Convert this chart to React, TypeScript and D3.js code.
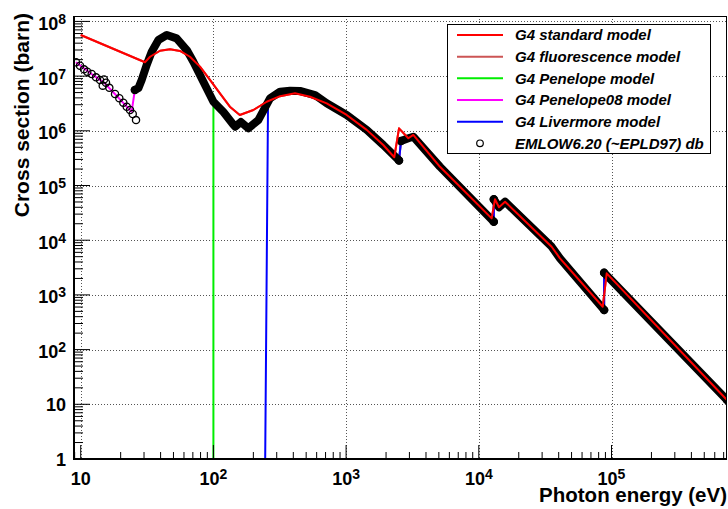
import React from 'react';
import * as d3 from 'd3';

// ---- data ----
const stdE = [10, 30.5, 33.3, 39.6, 47.1, 56.0, 66.6, 79.2, 94.2, 112, 133, 158, 200, 252, 318, 412, 535, 714, 1010, 1430, 1906, 2307, 2504, 2944, 3208, 5100, 12500, 13240, 14190, 15770, 35400, 40900, 85900, 92000, 742000];
const stdSigma = [5.64e7, 1.79e7, 2.26e7, 2.91e7, 3.09e7, 2.88e7, 2.26e7, 1.49e7, 8.5e6, 4.85e6, 2.76e6, 1.95e6, 2.4e6, 3.4e6, 4.3e6, 4.85e6, 4.2e6, 3.18e6, 1.95e6, 1.04e6, 5.5e5, 3.28e5, 1.11e6, 7.3e5, 8.4e5, 2.2e5, 2.51e4, 5.6e4, 4.0e4, 5.06e4, 7600, 4670, 608, 2480, 12];

const epdlLowE = [9.22, 9.88, 10.59, 11.21, 12.1, 13.04, 13.98, 14.98, 15.51, 14.65, 16.43, 18.14, 19.54, 20.94, 22.22, 23.53, 24.66, 26.11];
const epdlLowSigma = [1.79e7, 1.55e7, 1.33e7, 1.2e7, 1.09e7, 9.5e6, 8.5e6, 8.7e6, 7.6e6, 6.7e6, 6.1e6, 4.7e6, 3.93e6, 3.27e6, 2.76e6, 2.4e6, 2.03e6, 1.57e6];

const epdlE = [25.6, 27.2, 28.8, 31.4, 34.3, 38.5, 44.5, 52.8, 63, 70.6, 84, 100, 119, 141, 146, 161, 183, 218, 267, 318, 378, 449, 583, 714, 1010, 1430, 1906, 2504, 2593, 2944, 3208, 5100, 12970, 12970, 14190, 15770, 35400, 40900, 88000, 88000, 742000];
const epdlSigma = [5.6e6, 6.0e6, 8.5e6, 1.6e7, 2.8e7, 4.57e7, 5.64e7, 4.9e7, 3.0e7, 1.83e7, 7.9e6, 3.4e6, 2.2e6, 1.3e6, 1.19e6, 1.45e6, 1.11e6, 1.57e6, 3.93e6, 5.2e6, 5.4e6, 5.35e6, 4.5e6, 3.18e6, 1.95e6, 1.04e6, 5.5e5, 2.87e5, 6.5e5, 7.3e5, 7.8e5, 2.2e5, 2.18e4, 5.6e4, 4.0e4, 5.06e4, 7600, 4670, 530, 2550, 12];

const pen08LowE = [9.2, 12.1, 15.0, 18.1, 21.0, 24.2, 25.6];
const pen08LowSigma = [1.79e7, 1.09e7, 7.6e6, 4.7e6, 3.2e6, 2.24e6, 5.6e6];

const penelopeStartE = [100, 100];
const penelopeStartSigma = [0.5, 3.4e6];
const livermoreStartE = [245, 258];
const livermoreStartSigma = [0.5, 3.2e6];

const xTickVals = [10, 1e2, 1e3, 1e4, 1e5];
const xTickExp = ['', '2', '3', '4', '5'];
const yTickVals = [1, 10, 1e2, 1e3, 1e4, 1e5, 1e6, 1e7, 1e8];
const yTickBase = ['1', '10', '10', '10', '10', '10', '10', '10', '10'];
const yTickExp = ['', '', '2', '3', '4', '5', '6', '7', '8'];

const legendLabels = ['G4 standard model', 'G4 fluorescence model', 'G4 Penelope model', 'G4 Penelope08 model', 'G4 Livermore model', 'EMLOW6.20 (~EPLD97) db'];
const legendColors = ['#ff0000', '#cc5555', '#00ee00', '#ff00ff', '#0000ff', '#000000'];

// ---- layout ----
const W = 728, H = 509;
const L = 74, R = 727, T = 16, B = 459;
const FONT = "'Liberation Sans', Arial, Helvetica, sans-serif";

const x = d3.scaleLog().domain([8.9, 7.42e5]).range([L, R]);
const y = d3.scaleLog().domain([1, 1.256e8]).range([B, T]);

type P = [number, number];
const zip = (a: number[], b: number[]): P[] => a.map((v, i) => [v, b[i]]);
const line = d3.line<P>().x(d => x(d[0])).y(d => y(d[1]));

function splitAtEdges(pts: P[]): P[][] {
  const segs: P[][] = [];
  let cur: P[] = [];
  pts.forEach((p, i) => {
    if (i > 0) {
      const q = pts[i - 1];
      if (p[0] <= q[0] * 1.05 && p[1] > q[1] * 1.5) {
        segs.push(cur);
        cur = [];
      }
    }
    cur.push(p);
  });
  segs.push(cur);
  return segs;
}

export default function App() {
  const stdPts = zip(stdE, stdSigma);
  const epdlPts = zip(epdlE, epdlSigma);
  const lowPts = zip(epdlLowE, epdlLowSigma);
  const pen08Pts = [...zip(pen08LowE, pen08LowSigma), ...epdlPts.filter(p => p[0] > 25.6)];
  const penPts = [...zip(penelopeStartE, penelopeStartSigma), ...epdlPts.filter(p => p[0] > 100)];
  const livPts = [...zip(livermoreStartE, livermoreStartSigma), ...epdlPts.filter(p => p[0] > 258)];
  const bandSegs = splitAtEdges(epdlPts);
  const segEnds: P[] = [];
  bandSegs.forEach(s => { segEnds.push(s[0]); segEnds.push(s[s.length - 1]); });

  const xMinor: number[] = [];
  d3.range(0, 7).forEach(d => { for (let k = 2; k <= 9; k++) { const v = k * Math.pow(10, d); if (v >= 8.9 && v <= 7.42e5) xMinor.push(v); } });
  const yMinor: number[] = [];
  d3.range(0, 9).forEach(d => { for (let k = 2; k <= 9; k++) { const v = k * Math.pow(10, d); if (v <= 1.256e8) yMinor.push(v); } });

  const legendRowY = [35, 56.7, 78.3, 100, 121.7, 143.3];

  return (
    <svg width={W} height={H} style={{ position: 'absolute', left: 0, top: 0, display: 'block', background: '#fff' }} fontFamily={FONT}>
      <defs>
        <clipPath id="plot"><rect x={L} y={T} width={R - L} height={B - T} /></clipPath>
      </defs>
      <rect x={0} y={0} width={W} height={H} fill="#fff" />
      {/* grid */}
      <g stroke="#555" strokeWidth={1} strokeDasharray="1 2">
        {xTickVals.map((v, i) => <line key={'gx' + i} x1={Math.round(x(v)) + 0.5} x2={Math.round(x(v)) + 0.5} y1={T} y2={B} />)}
        {yTickVals.slice(1).map((v, i) => <line key={'gy' + i} x1={L} x2={R} y1={Math.round(y(v)) + 0.5} y2={Math.round(y(v)) + 0.5} />)}
      </g>
      {/* curves */}
      <g clipPath="url(#plot)" fill="none" strokeLinejoin="round">
        <path d={line(stdPts) || ''} stroke="#cc5555" strokeWidth={2} />
        <path d={line(penPts) || ''} stroke="#00ee00" strokeWidth={2} />
        <path d={line(pen08Pts) || ''} stroke="#ff00ff" strokeWidth={2} />
        <path d={line(livPts) || ''} stroke="#0000ff" strokeWidth={2} />
        {bandSegs.map((s, i) => <path key={'b' + i} d={line(s) || ''} stroke="#000" strokeWidth={8} strokeLinecap="round" />)}
        {[...lowPts, ...segEnds].map((p, i) => (
          <circle key={'c' + i} cx={x(p[0])} cy={y(p[1])} r={3.6} fill="none" stroke="#000" strokeWidth={1.3} />
        ))}
        <path d={line(stdPts) || ''} stroke="#ff0000" strokeWidth={2} />
      </g>
      {/* frame */}
      <line x1={L} x2={R} y1={T + 0.5} y2={T + 0.5} stroke="#000" strokeWidth={1} />
      <line x1={R - 0.5} x2={R - 0.5} y1={T} y2={B} stroke="#000" strokeWidth={1} />
      <line x1={L} x2={L} y1={T} y2={B + 1} stroke="#000" strokeWidth={2} />
      <line x1={L - 1} x2={R} y1={B} y2={B} stroke="#000" strokeWidth={2} />
      {/* ticks */}
      <g stroke="#000" strokeWidth={1}>
        {xTickVals.map((v, i) => <line key={'tx' + i} x1={x(v)} x2={x(v)} y1={B} y2={B - 14} />)}
        {xMinor.map((v, i) => <line key={'mx' + i} x1={x(v)} x2={x(v)} y1={B} y2={B - 7} />)}
        {yTickVals.slice(1).map((v, i) => <line key={'ty' + i} x1={L} x2={L + 16} y1={y(v)} y2={y(v)} />)}
        {yMinor.map((v, i) => <line key={'my' + i} x1={L} x2={L + 9} y1={y(v)} y2={y(v)} />)}
      </g>
      {/* tick labels */}
      <g fontWeight="bold" fontSize={18} fill="#000">
        {xTickVals.map((v, i) => (
          <text key={'lx' + i} x={x(v)} y={485} textAnchor="middle">
            <tspan>10</tspan>
            {xTickExp[i] ? <tspan fontSize={14} dy={-6}>{xTickExp[i]}</tspan> : null}
          </text>
        ))}
        {yTickVals.map((v, i) => (
          <text key={'ly' + i} x={66} y={y(v) + (yTickExp[i] ? 8.5 : 6.5)} textAnchor="end">
            <tspan>{yTickBase[i]}</tspan>
            {yTickExp[i] ? <tspan fontSize={14} dy={-6}>{yTickExp[i]}</tspan> : null}
          </text>
        ))}
      </g>
      {/* axis titles */}
      <text x={727} y={502} textAnchor="end" fontWeight="bold" fontSize={20.5}>Photon energy (eV)</text>
      <text transform="translate(29,13) rotate(-90)" textAnchor="end" fontWeight="bold" fontSize={21}>Cross section (barn)</text>
      {/* legend */}
      <rect x={447.5} y={24.5} width={263} height={129} fill="#fff" stroke="#000" strokeWidth={1} />
      {legendLabels.map((lab, i) => (
        <g key={'lg' + i}>
          {i < 5 ? (
            <line x1={457} x2={503} y1={legendRowY[i]} y2={legendRowY[i]} stroke={legendColors[i]} strokeWidth={2} />
          ) : (
            <circle cx={480} cy={legendRowY[i]} r={3.3} fill="none" stroke="#000" strokeWidth={1.2} />
          )}
          <text x={515} y={legendRowY[i] + 5.3} fontSize={15} fontWeight="bold" fontStyle="italic">{lab}</text>
        </g>
      ))}
    </svg>
  );
}
